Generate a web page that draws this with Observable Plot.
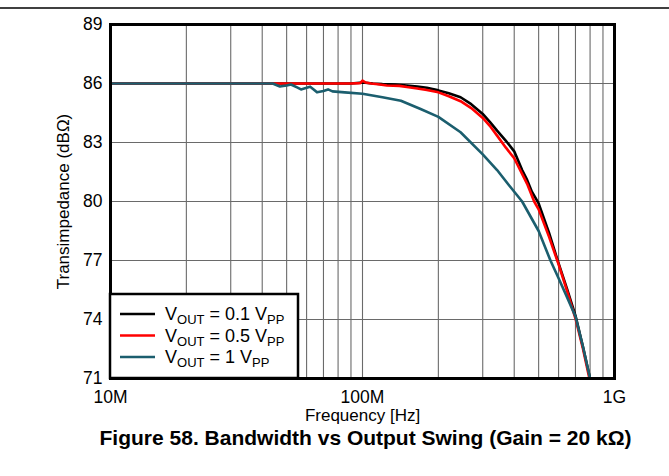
<!DOCTYPE html>
<html>
<head>
<meta charset="utf-8">
<script src="https://cdn.jsdelivr.net/npm/d3@7"></script>
<script src="https://cdn.jsdelivr.net/npm/@observablehq/plot@0.6"></script>
<style>
  html, body { margin: 0; padding: 0; background: #fff; }
  #chart svg { display: block; font-family: "Liberation Sans", Arial, sans-serif; }
</style>
</head>
<body>
<div id="chart"></div>
<script>
// ---- data (frequency in MHz, transimpedance in dBΩ) ----
const freqBlack = [10, 20, 30, 50, 70, 90, 100, 110, 120, 135, 150, 165, 180, 200, 220, 245, 270, 300, 320, 342, 370, 400, 430, 450, 470, 500, 550, 600, 650, 700, 750, 800];
const vBlack    = [86.0, 86.0, 86.0, 86.0, 86.0, 86.0, 86.05, 86.0, 85.97, 85.95, 85.9, 85.85, 85.78, 85.65, 85.5, 85.3, 84.95, 84.45, 84.05, 83.6, 83.1, 82.55, 81.6, 81.1, 80.5, 79.9, 78.4, 76.85, 75.5, 74.2, 72.6, 71.0];

const freqRed = [10, 20, 30, 50, 70, 90, 98, 100, 103, 108, 115, 125, 140, 150, 165, 180, 200, 220, 245, 270, 300, 320, 342, 370, 400, 450, 480, 500, 550, 600, 650, 700, 750, 795];
const vRed    = [86.0, 86.0, 86.0, 86.0, 86.0, 86.0, 86.02, 86.15, 86.05, 86.0, 85.96, 85.9, 85.88, 85.82, 85.75, 85.67, 85.55, 85.35, 85.1, 84.75, 84.25, 83.85, 83.35, 82.75, 82.2, 80.9, 80.0, 79.6, 78.2, 76.8, 75.4, 74.05, 72.5, 71.0];

const freqTeal = [10, 20, 30, 40, 44, 47, 50, 52, 55, 57, 60, 62, 64, 66, 70, 73, 76, 85, 100, 120, 142, 170, 200, 245, 300, 342, 380, 430, 500, 557, 600, 650, 700, 750, 800];
const vTeal    = [86.0, 86.0, 86.0, 86.0, 86.0, 85.85, 85.9, 85.95, 85.8, 85.7, 85.78, 85.84, 85.7, 85.55, 85.62, 85.7, 85.6, 85.55, 85.48, 85.3, 85.12, 84.7, 84.3, 83.52, 82.4, 81.6, 80.85, 80.0, 78.5, 77.0, 76.1, 75.1, 74.15, 72.6, 71.0];

const seriesNames  = ["0.1", "0.5", "1"];
const seriesColors = ["#000000", "#ff0000", "#1b5e6e"];

const yTicks = [71, 74, 77, 80, 83, 86, 89];
const xTicks = [1e7, 1e8, 1e9];
const xTickLabels = ["10M", "100M", "1G"];
const gridMHz = [20, 30, 40, 50, 60, 70, 80, 90, 100, 200, 300, 400, 500, 600, 700, 800, 900];

const yTitle = "Transimpedance (dBΩ)";
const xTitle = "Frequency [Hz]";
const caption = "Figure 58. Bandwidth vs Output Swing (Gain = 20 kΩ)";

// ---- build tables ----
const toRows = (fs, vs, s) => fs.map((f, i) => ({f: f * 1e6, v: vs[i], s}));
const rows = [
  ...toRows(freqBlack, vBlack, seriesNames[0]),
  ...toRows(freqRed, vRed, seriesNames[1]),
  ...toRows(freqTeal, vTeal, seriesNames[2])
];

const W = 669, H = 476;
const font = "\"Liberation Sans\", Arial, sans-serif";

const chart = Plot.plot({
  width: W,
  height: H,
  marginLeft: 110,
  marginRight: 55,
  marginTop: 24,
  marginBottom: 98,
  style: {fontFamily: font, background: "#fff", color: "#000"},
  x: {type: "log", domain: [1e7, 1e9]},
  y: {domain: [71, 89]},
  color: {domain: seriesNames, range: seriesColors},
  marks: [
    Plot.ruleX(gridMHz.map(d => d * 1e6), {stroke: "#6a6a6a", strokeWidth: 1.1}),
    Plot.ruleY(yTicks.slice(1, -1), {stroke: "#6a6a6a", strokeWidth: 1.1}),
    Plot.line(rows, {x: "f", y: "v", z: "s", stroke: "s", strokeWidth: 2.6, curve: "linear"}),
    Plot.frame({stroke: "#000", strokeWidth: 3}),
    Plot.axisX({ticks: xTicks, tickFormat: (d) => xTickLabels[xTicks.indexOf(d)], tickSize: 0, tickPadding: 12.5, fontSize: 17.5, label: null, style: {letterSpacing: "0.6px"}}),
    Plot.axisY({ticks: yTicks, tickFormat: d => String(d), tickSize: 0, tickPadding: 8, fontSize: 17.5, label: null, style: {letterSpacing: "0.5px"}}),
    Plot.text([yTitle], {frameAnchor: "left", textAnchor: "middle", lineAnchor: "middle", dx: -47, rotate: -90, fontSize: 17, text: d => d, style: {letterSpacing: "0.3px"}}),
    Plot.text([xTitle], {frameAnchor: "bottom", textAnchor: "middle", lineAnchor: "middle", dy: 37, fontSize: 17, text: d => d, style: {letterSpacing: "0.7px"}}),
    Plot.text([caption], {frameAnchor: "bottom", textAnchor: "middle", lineAnchor: "middle", dx: 3, dy: 59.5, fontSize: 21, fontWeight: "bold", text: d => d, style: {letterSpacing: "0.75px"}})
  ]
});

document.getElementById("chart").appendChild(chart);

// ---- decorations: top rule and legend ----
const svg = d3.select(chart);
svg.append("line")
  .attr("x1", 0).attr("x2", W).attr("y1", 8).attr("y2", 8)
  .attr("stroke", "#000").attr("stroke-width", 1.5);

const lg = svg.append("g").attr("font-family", font).attr("font-size", 18).attr("text-anchor", "start");
lg.append("rect")
  .attr("x", 110).attr("y", 294).attr("width", 188).attr("height", 84)
  .attr("fill", "#fff").attr("stroke", "#000").attr("stroke-width", 2.5);
seriesNames.forEach((name, i) => {
  const cy = 314 + i * 21.5;
  lg.append("line")
    .attr("x1", 120).attr("x2", 155).attr("y1", cy).attr("y2", cy)
    .attr("stroke", seriesColors[i]).attr("stroke-width", 2.6);
  const t = lg.append("text").attr("x", 165).attr("y", cy + 6).attr("fill", "#000").attr("text-anchor", "start");
  t.append("tspan").text("V");
  t.append("tspan").attr("dy", 4).attr("font-size", 13).text("OUT");
  t.append("tspan").attr("dy", -4).text(" = " + name + " V");
  t.append("tspan").attr("dy", 4).attr("font-size", 13).text("PP");
});
</script>
</body>
</html>
